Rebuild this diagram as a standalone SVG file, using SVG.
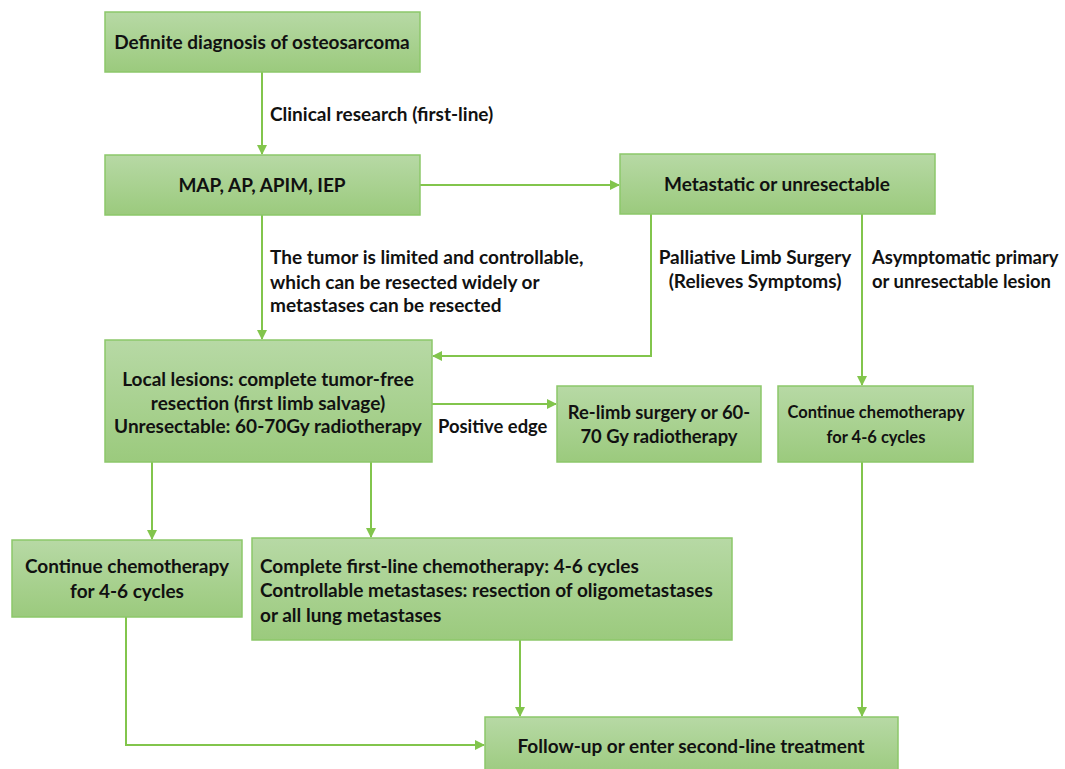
<svg xmlns="http://www.w3.org/2000/svg" width="1065" height="769" viewBox="0 0 1065 769">
<style>
.box{fill:url(#g);stroke:#8cc76a;stroke-width:1.5}
.t{font-family:Lato,"Open Sans","Liberation Sans",sans-serif;font-weight:700;font-size:19px;fill:#111}
.c{text-anchor:middle}
.s{font-size:16.5px}
.m{font-size:18.4px}
.ln{fill:none;stroke:#82c54c;stroke-width:2;marker-end:url(#ah)}
</style>
<defs>
<linearGradient id="g" x1="0" y1="0" x2="0" y2="1">
<stop offset="0" stop-color="#b7d9a5"/>
<stop offset="1" stop-color="#9bca7d"/>
</linearGradient>
<marker id="ah" viewBox="0 0 10 10" refX="9" refY="5" markerWidth="5" markerHeight="5" orient="auto" markerUnits="strokeWidth">
<path d="M0,0 L10,5 L0,10 z" fill="#82c54c"/>
</marker>
</defs>
<rect width="1065" height="769" fill="#fff"/>
<g id="connectors">
<path class="ln" d="M262,72 V154"/>
<path class="ln" d="M420,185 H619"/>
<path class="ln" d="M262,215 V339"/>
<path class="ln" d="M651,214 V356 H433"/>
<path class="ln" d="M862,214 V385"/>
<path class="ln" d="M432,404 H556"/>
<path class="ln" d="M152,462 V539"/>
<path class="ln" d="M371,462 V537"/>
<path class="ln" d="M126,617 V745 H484"/>
<path class="ln" d="M520,640 V716"/>
<path class="ln" d="M862,462 V716"/>
<text class="t" x="270" y="121">Clinical research (first-line)</text>
<text class="t" x="270" y="264">The tumor is limited and controllable,</text>
<text class="t" x="270" y="289">which can be resected widely or</text>
<text class="t" x="270" y="312">metastases can be resected</text>
<text class="t c" x="755" y="264">Palliative Limb Surgery</text>
<text class="t c" x="755" y="288">(Relieves Symptoms)</text>
<text class="t m" x="872" y="264">Asymptomatic primary</text>
<text class="t m" x="872" y="288">or unresectable lesion</text>
<text class="t m" x="438" y="433">Positive edge</text>
</g>
<g id="n1"><rect class="box" x="105" y="12" width="315" height="60"/><text class="t c" x="262" y="49">Definite diagnosis of osteosarcoma</text></g>
<g id="n2"><rect class="box" x="105" y="155" width="315" height="60"/><text class="t c" x="262" y="192">MAP, AP, APIM, IEP</text></g>
<g id="n3"><rect class="box" x="620" y="154" width="315" height="60"/><text class="t c" x="777" y="191">Metastatic or unresectable</text></g>
<g id="n4"><rect class="box" x="105" y="340" width="327" height="122"/>
<text class="t c" x="268" y="386">Local lesions: complete tumor-free</text>
<text class="t c" x="268" y="410">resection (first limb salvage)</text>
<text class="t c" x="268" y="433">Unresectable: 60-70Gy radiotherapy</text></g>
<g id="n5"><rect class="box" x="557" y="386" width="204" height="76"/>
<text class="t c m" x="659" y="419">Re-limb surgery or 60-</text>
<text class="t c m" x="659" y="443">70 Gy radiotherapy</text></g>
<g id="n6"><rect class="box" x="778" y="386" width="195" height="76"/>
<text class="t c s" x="876" y="418">Continue chemotherapy</text>
<text class="t c s" x="876" y="443">for 4-6 cycles</text></g>
<g id="n7"><rect class="box" x="12" y="540" width="230" height="77"/>
<text class="t c" x="127" y="573">Continue chemotherapy</text>
<text class="t c" x="127" y="598">for 4-6 cycles</text></g>
<g id="n8"><rect class="box" x="252" y="538" width="480" height="102"/>
<text class="t" x="260" y="573">Complete first-line chemotherapy: 4-6 cycles</text>
<text class="t" x="260" y="597">Controllable metastases: resection of oligometastases</text>
<text class="t" x="260" y="622">or all lung metastases</text></g>
<g id="n9"><rect class="box" x="485" y="717" width="413" height="60"/>
<text class="t c" x="691" y="753">Follow-up or enter second-line treatment</text></g>
</svg>
